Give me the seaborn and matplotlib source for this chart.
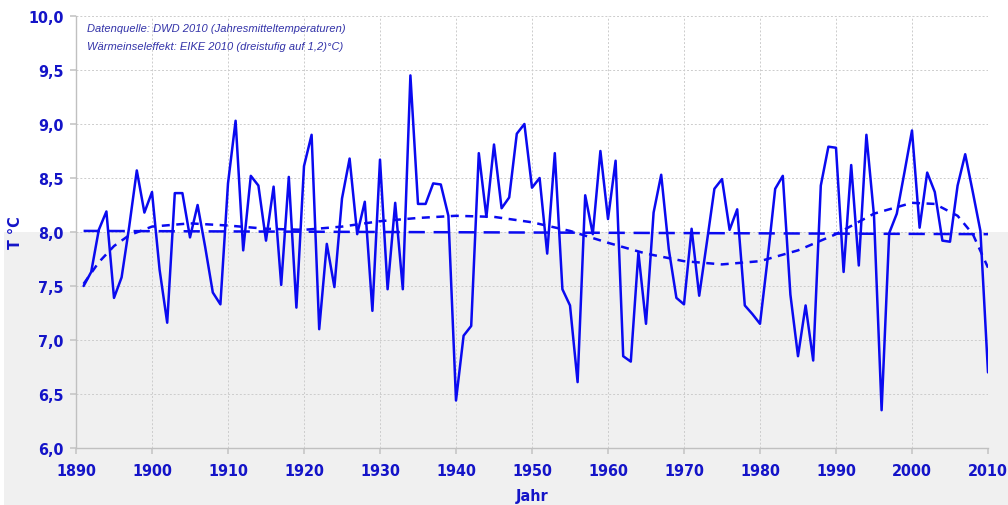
import matplotlib
matplotlib.use("Agg")
import matplotlib.pyplot as plt
from matplotlib.patches import Rectangle
import numpy as np
import seaborn as sns

# Annual mean temperatures (DWD)
years = np.arange(1891, 2011)
temps = [
    7.50, 7.63, 8.02, 8.19, 7.39, 7.58, 8.05, 8.57, 8.18, 8.37,   # 1891-1900
    7.65, 7.16, 8.36, 8.36, 7.95, 8.25, 7.86, 7.44, 7.33, 8.45,   # 1901-1910
    9.03, 7.83, 8.52, 8.43, 7.92, 8.42, 7.51, 8.51, 7.30, 8.61,   # 1911-1920
    8.90, 7.10, 7.89, 7.49, 8.31, 8.68, 7.98, 8.28, 7.27, 8.67,   # 1921-1930
    7.47, 8.27, 7.47, 9.45, 8.26, 8.26, 8.45, 8.44, 8.15, 6.44,   # 1931-1940
    7.04, 7.13, 8.73, 8.14, 8.81, 8.22, 8.32, 8.91, 9.00, 8.41,   # 1941-1950
    8.50, 7.80, 8.73, 7.47, 7.32, 6.61, 8.34, 7.98, 8.75, 8.12,   # 1951-1960
    8.66, 6.85, 6.80, 7.81, 7.15, 8.18, 8.53, 7.84, 7.39, 7.33,   # 1961-1970
    8.03, 7.41, 7.90, 8.40, 8.49, 8.02, 8.21, 7.32, 7.24, 7.15,   # 1971-1980
    7.75, 8.40, 8.52, 7.42, 6.85, 7.32, 6.81, 8.43, 8.79, 8.78,   # 1981-1990
    7.63, 8.62, 7.69, 8.90, 8.15, 6.35, 7.99, 8.17, 8.55, 8.94,   # 1991-2000
    8.04, 8.55, 8.37, 7.92, 7.91, 8.43, 8.72, 8.37, 8.01, 6.70,   # 2001-2010
]

# linear trend (long dashes)
lin_years = [1891, 2010]
lin_vals = [8.01, 7.98]

# polynomial trend (short dashes)
poly_years = [1891, 1893, 1895, 1897, 1900, 1905, 1910, 1915, 1920, 1925,
              1930, 1935, 1940, 1945, 1950, 1955, 1960, 1965, 1970, 1975,
              1980, 1985, 1990, 1995, 2000, 2003, 2006, 2008, 2010]
poly_vals = [7.52, 7.72, 7.87, 7.97, 8.05, 8.08, 8.06, 8.03, 8.02, 8.05,
             8.10, 8.13, 8.15, 8.14, 8.09, 8.01, 7.90, 7.80, 7.73, 7.70,
             7.73, 7.83, 7.98, 8.17, 8.27, 8.26, 8.15, 7.98, 7.67]

x_ticks = list(range(1890, 2011, 10))
y_ticks = [6.0, 6.5, 7.0, 7.5, 8.0, 8.5, 9.0, 9.5, 10.0]
y_labels = ['6,0', '6,5', '7,0', '7,5', '8,0', '8,5', '9,0', '9,5', '10,0']

sns.set_theme(style='white')
plt.rcParams['font.family'] = ['DejaVu Sans']
plt.rcParams['font.stretch'] = 'condensed'

line_col = '#0a0af0'
text_col = '#1414c8'

fig = plt.figure(figsize=(10.08, 5.06), dpi=100)
fig.patch.set_facecolor('white')
ax = fig.add_axes([76 / 1008, 57 / 506, 912 / 1008, 432 / 506])
ax.set_facecolor('none')

sns.lineplot(x=years, y=temps, ax=ax, color=line_col, linewidth=1.8)
sns.lineplot(x=lin_years, y=lin_vals, ax=ax, color=line_col, linewidth=1.8)
ax.lines[-1].set_dashes([6.5, 3.5])
sns.lineplot(x=poly_years, y=poly_vals, ax=ax, color=line_col, linewidth=1.8)
ax.lines[-1].set_dashes([3.2, 2.6])

ax.set_xlim(1890, 2010)
ax.set_ylim(6.0, 10.0)
ax.set_xticks(x_ticks)
ax.set_xticklabels([str(t) for t in x_ticks])
ax.set_yticks(y_ticks)
ax.set_yticklabels(y_labels)

ax.grid(True, color='#cccccc', linestyle=(0, (2, 2)), linewidth=0.7)
ax.set_axisbelow(True)
for s in ['top', 'right']:
    ax.spines[s].set_visible(False)
for s in ['left', 'bottom']:
    ax.spines[s].set_color('#c0c0c0')
    ax.spines[s].set_linewidth(1.0)

ax.tick_params(axis='both', length=4, color='#c8c8c8', labelcolor=text_col, labelsize=11.5)
ax.tick_params(axis='x', pad=7, bottom=True)
ax.tick_params(axis='y', pad=5, left=True)
for lab in ax.get_xticklabels() + ax.get_yticklabels():
    lab.set_fontweight('bold')
    lab.set_fontstretch('condensed')

ax.set_xlabel('Jahr', color=text_col, fontsize=11.5, fontweight='bold',
              fontstretch='condensed', labelpad=7)
ax.set_ylabel('T °C', color=text_col, fontsize=11.5, fontweight='bold',
              fontstretch='condensed')
ax.yaxis.set_label_coords(-0.058, 0.5)

# source notes
ax.text(0.012, 0.972, 'Datenquelle: DWD 2010 (Jahresmitteltemperaturen)',
        transform=ax.transAxes, ha='left', va='center', fontsize=8,
        style='italic', color='#3232a8', family=['Liberation Sans', 'DejaVu Sans'])
ax.text(0.012, 0.930, 'Wärmeinseleffekt: EIKE 2010 (dreistufig auf 1,2)°C)',
        transform=ax.transAxes, ha='left', va='center', fontsize=8,
        style='italic', color='#3232a8', family=['Liberation Sans', 'DejaVu Sans'])

# grey band below 8 °C across the whole picture
y8 = fig.transFigure.inverted().transform(ax.transData.transform((1890, 8.0)))[1]
fig.patches.append(Rectangle((4 / 1008, 0), 1, y8, transform=fig.transFigure,
                             facecolor='#f0f0f0', edgecolor='none', zorder=-10))

fig.savefig('out.png', dpi=100)
